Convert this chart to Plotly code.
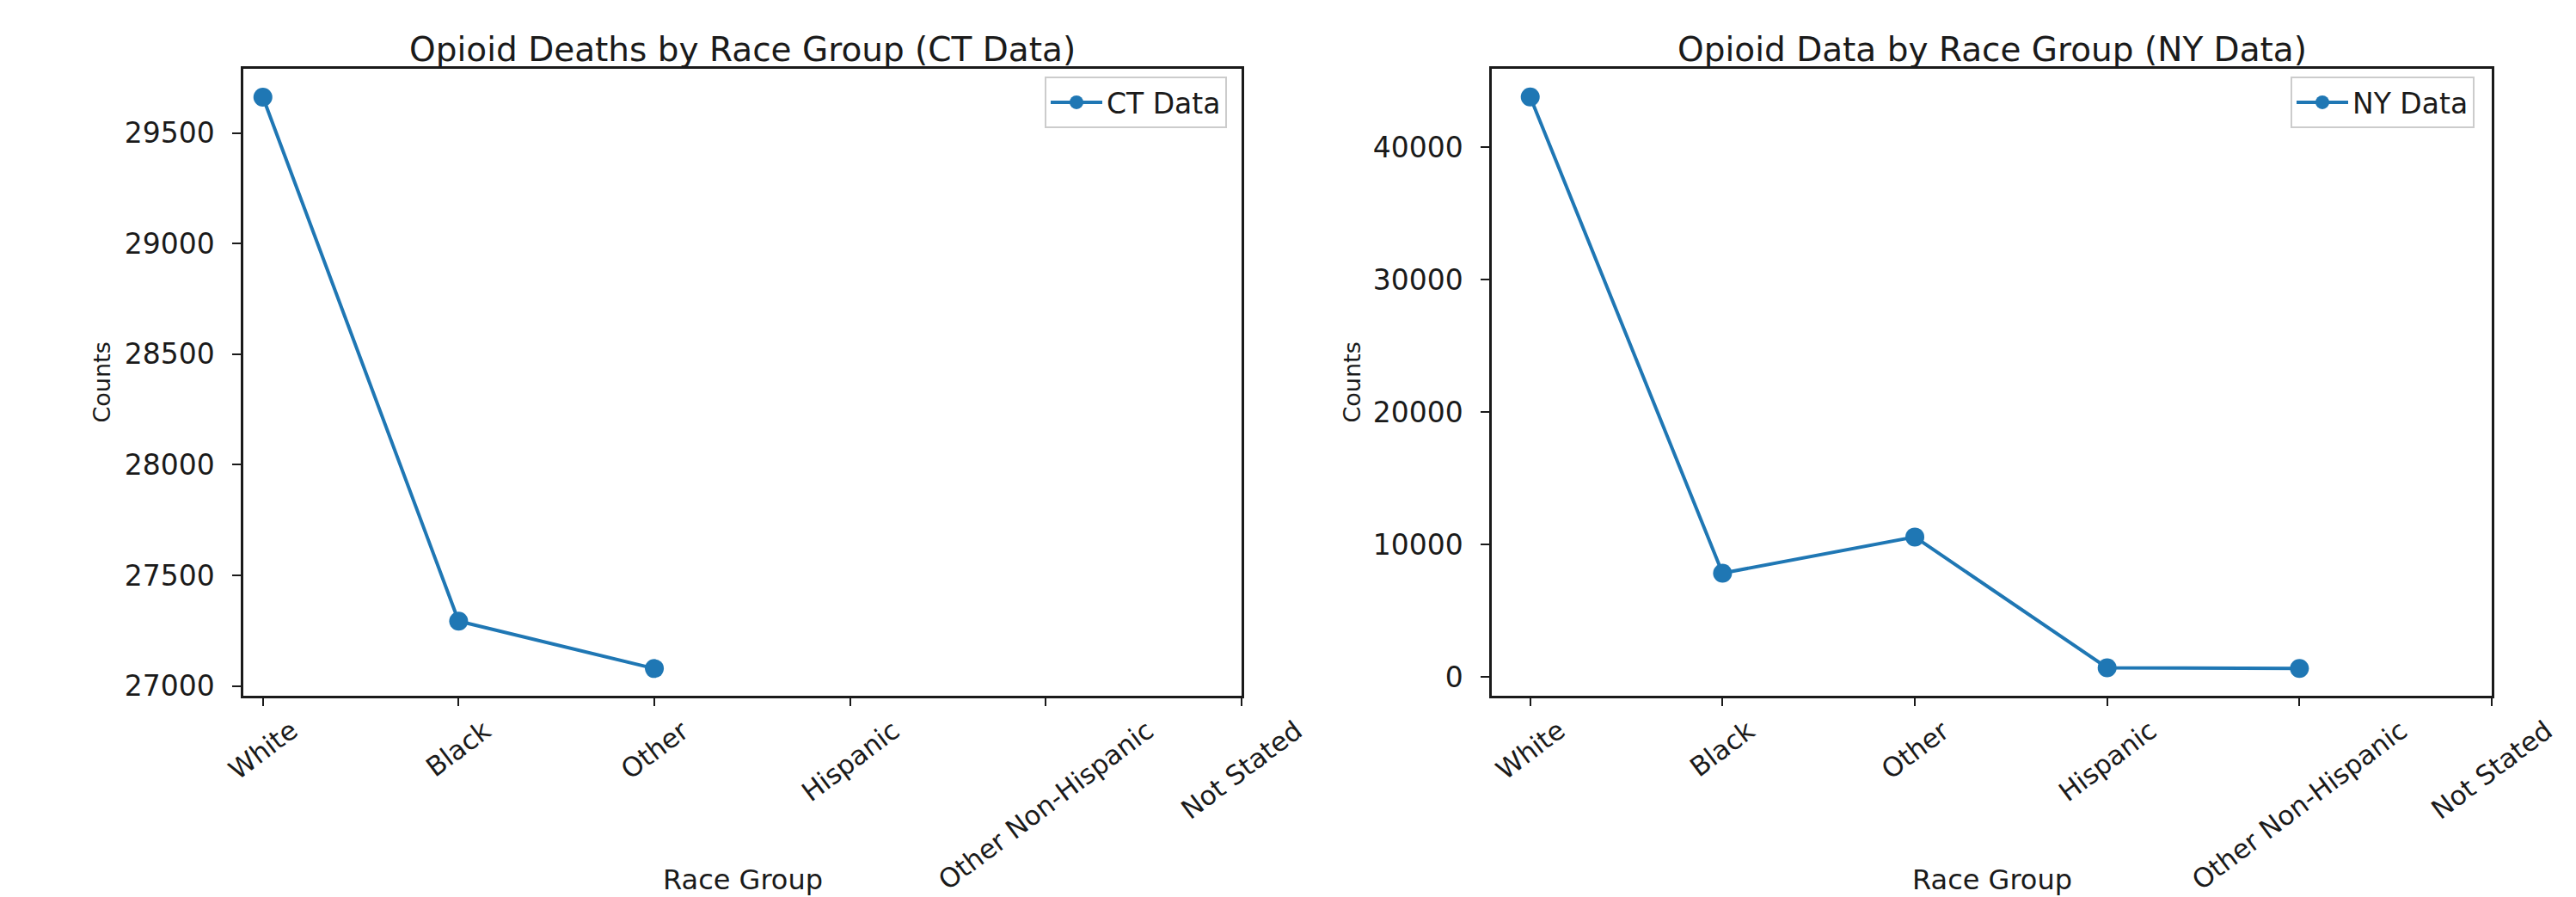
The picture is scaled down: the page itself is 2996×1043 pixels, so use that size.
import plotly.graph_objects as go

# Race groups shown on both x axes
race_groups = ["White", "Black", "Other", "Hispanic", "Other Non-Hispanic", "Not Stated"]

# Counts per race group (None = no value for that group)
ct_counts = [29662, 27293, 27079, None, None, None]
ny_counts = [43817, 7841, 10572, 689, 644, None]

ct_yticks = [27000, 27500, 28000, 28500, 29000, 29500]
ny_yticks = [0, 10000, 20000, 30000, 40000]

W, H = 2996, 1043
ML, MR, MT, MB = 283, 98, 80, 234
plot_w = W - ML - MR
plot_h = H - MT - MB

BLUE = "#1f77b4"
INK = "#1a1a1a"
FONT = "DejaVu Sans"


def px_x(px):
    return (px - ML) / plot_w


def px_y(py):
    return (H - MB - py) / plot_h


fig = go.Figure()

fig.add_trace(go.Scatter(
    x=race_groups, y=ct_counts, mode="lines+markers", name="CT Data",
    line=dict(color=BLUE, width=4), marker=dict(size=22, color=BLUE),
    xaxis="x", yaxis="y", legend="legend",
))
fig.add_trace(go.Scatter(
    x=race_groups, y=ny_counts, mode="lines+markers", name="NY Data",
    line=dict(color=BLUE, width=4), marker=dict(size=22, color=BLUE),
    xaxis="x2", yaxis="y2", legend="legend2",
))

x_common = dict(
    type="category", categoryorder="array", categoryarray=race_groups,
    tickvals=race_groups, showticklabels=False,
    ticks="outside", ticklen=9, tickwidth=2, tickcolor=INK,
    showline=True, mirror=True, linecolor=INK, linewidth=2.5,
    showgrid=False, zeroline=False,
)
y_common = dict(
    ticks="outside", ticklen=10, tickwidth=2, tickcolor=INK,
    showline=True, mirror=True, linecolor=INK, linewidth=2.5,
    showgrid=False, zeroline=False, tickformat="d",
    tickfont=dict(family=FONT, size=33, color=INK),
    ticklabelstandoff=14,
)

left_end = px_x(1444)
right_start = px_x(1735)

legend_common = dict(
    xanchor="right", yanchor="top",
    bgcolor="rgba(255,255,255,0.85)", bordercolor="#cccccc", borderwidth=2,
    font=dict(family=FONT, size=33, color=INK), itemwidth=60,
)

fig.update_layout(
    width=W, height=H, autosize=False,
    margin=dict(l=ML, r=MR, t=MT, b=MB, pad=0),
    paper_bgcolor="white", plot_bgcolor="white",
    font=dict(family=FONT, color=INK),
    xaxis=dict(domain=[0, left_end], range=[-0.1, 5], anchor="y", **x_common),
    xaxis2=dict(domain=[right_start, 1], range=[-0.2, 5], anchor="y2", **x_common),
    yaxis=dict(domain=[0, 1], anchor="x", range=[26956, 29790], tickvals=ct_yticks, **y_common),
    yaxis2=dict(domain=[0, 1], anchor="x2", range=[-1424, 45943], tickvals=ny_yticks, **y_common),
    legend=dict(x=px_x(1427), y=px_y(89), **legend_common),
    legend2=dict(x=px_x(2878), y=px_y(89), **legend_common),
    showlegend=True,
)

annotations = []
titles = [("x", "Opioid Deaths by Race Group (CT Data)"),
          ("x2", "Opioid Data by Race Group (NY Data)")]
for xr, text in titles:
    annotations.append(dict(
        text=text, xref=f"{xr} domain", x=0.5, yref="paper", y=px_y(57),
        xanchor="center", yanchor="middle", showarrow=False,
        font=dict(family=FONT, size=39, color=INK),
    ))
    annotations.append(dict(
        text="Race Group", xref=f"{xr} domain", x=0.5, yref="paper", y=px_y(1002),
        xanchor="center", yanchor="top", showarrow=False,
        font=dict(family=FONT, size=32, color=INK),
    ))
    # rotated category labels, centred under each tick
    for cat in race_groups:
        annotations.append(dict(
            text=cat, xref=xr, x=cat, yref="paper", y=px_y(828),
            xanchor="center", yanchor="top", textangle=-37, showarrow=False,
            font=dict(family=FONT, size=31, color=INK),
        ))

for cx in (118, 1572):
    annotations.append(dict(
        text="Counts", xref="paper", x=px_x(cx), yref="paper", y=0.5,
        xanchor="center", yanchor="middle", textangle=-90, showarrow=False,
        font=dict(family=FONT, size=27, color=INK),
    ))

fig.update_layout(annotations=annotations)

fig.write_html("out.html")
